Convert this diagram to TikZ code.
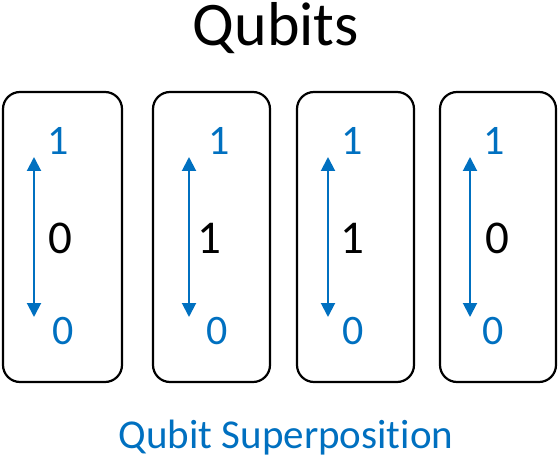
\documentclass[tikz,border=0pt]{standalone}
\usepackage{fontspec}
\setmainfont[RawFeature=-liga]{Carlito}
\usetikzlibrary{arrows.meta}
\definecolor{qblue}{HTML}{0070C0}
\tikzset{
  qbox/.style={draw=black, line width=2.2pt, rounded corners=17pt},
  qarrow/.style={draw=qblue, line width=2pt, {Triangle[length=14pt,width=14pt]}-{Triangle[length=14pt,width=14pt]}},
  qlabel/.style={text=qblue, font=\fontsize{42}{42}\selectfont, inner sep=0pt},
  qval/.style={text=black, font=\fontsize{47}{47}\selectfont, inner sep=0pt},
}
\begin{document}
\begin{tikzpicture}[x=1pt, y=-1pt]
\useasboundingbox (0,0) rectangle (559,462);
\node[anchor=base, font=\fontsize{62}{62}\selectfont, inner sep=0pt] (title) at (276,46) {Qubits};
\node[anchor=base, text=qblue, font=\fontsize{41}{41}\selectfont, inner sep=0pt] (sub) at (286,448) {Qubit Superposition};
% boxes
\draw[qbox] (3,92) rectangle (122,382);
\draw[qbox] (153,92) rectangle (270,382);
\draw[qbox] (297,92) rectangle (414,382);
\draw[qbox] (440,92) rectangle (556,382);
% box 1
\node[qlabel] (t1) at (58,141) {1};
\node[qlabel] (b1) at (63,331) {0};
\node[qval] (m1) at (60,238) {0};
\coordinate (a1t) at (34,157); \coordinate (a1b) at (34,317);
\draw[qarrow] (a1t) -- (a1b);
% box 2
\node[qlabel] (t2) at (219,141) {1};
\node[qlabel] (b2) at (217,331) {0};
\node[qval] (m2) at (209,238) {1};
\coordinate (a2t) at (189,157); \coordinate (a2b) at (189,317);
\draw[qarrow] (a2t) -- (a2b);
% box 3
\node[qlabel] (t3) at (352,141) {1};
\node[qlabel] (b3) at (353,331) {0};
\node[qval] (m3) at (352,238) {1};
\coordinate (a3t) at (328,157); \coordinate (a3b) at (328,317);
\draw[qarrow] (a3t) -- (a3b);
% box 4
\node[qlabel] (t4) at (494,141) {1};
\node[qlabel] (b4) at (493,331) {0};
\node[qval] (m4) at (497,238) {0};
\coordinate (a4t) at (470,157); \coordinate (a4b) at (470,317);
\draw[qarrow] (a4t) -- (a4b);
\end{tikzpicture}
\end{document}
